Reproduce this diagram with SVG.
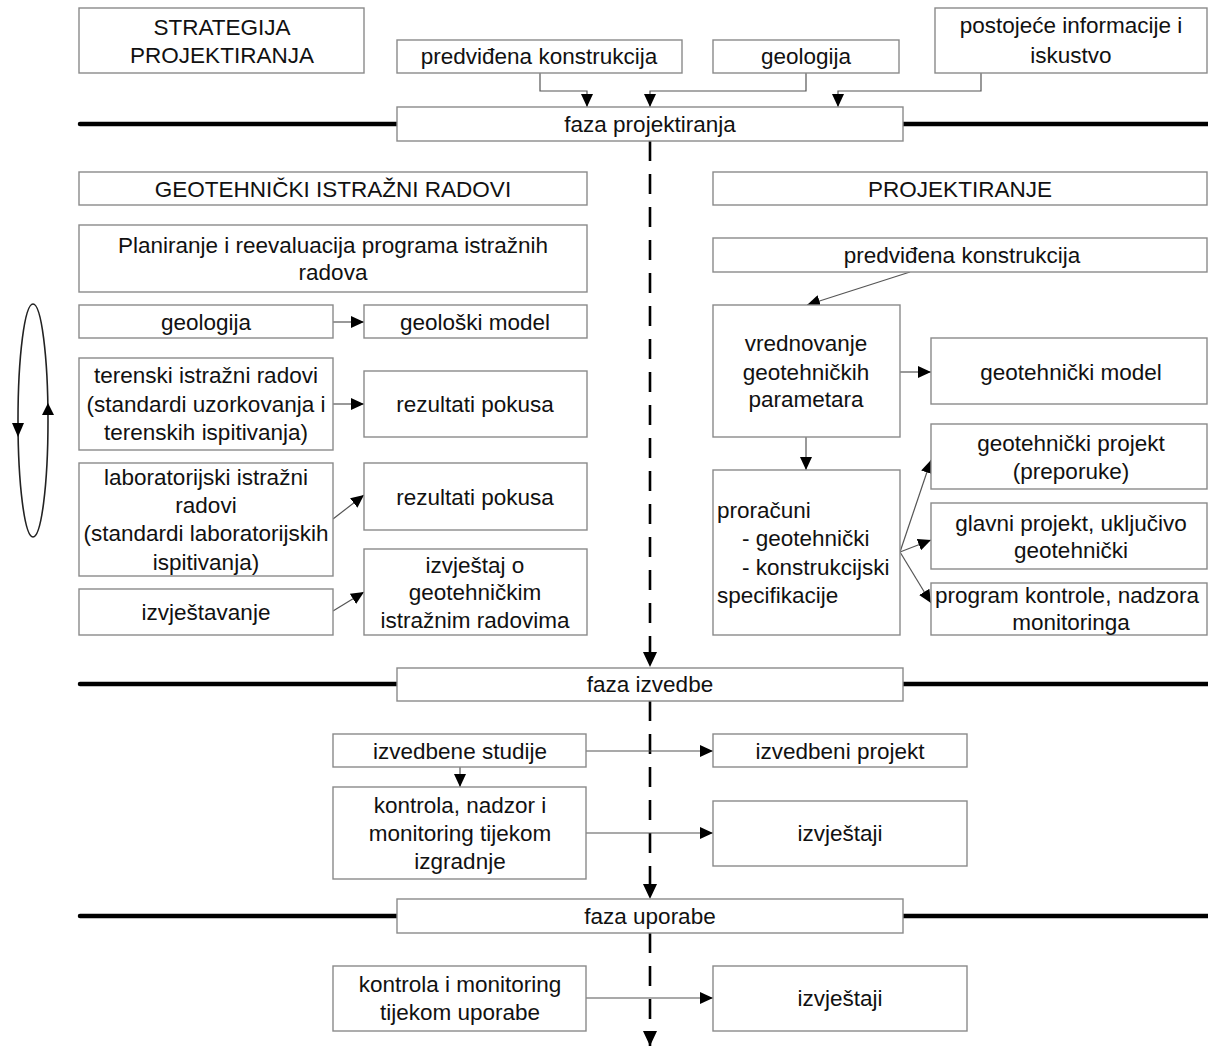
<svg xmlns="http://www.w3.org/2000/svg" width="1208" height="1046" viewBox="0 0 1208 1046">
<style>
.b{fill:#fff;stroke:#8a8a8a;stroke-width:1.4}
text{font-family:"Liberation Sans",Arial,sans-serif;font-size:22.5px;fill:#111;text-anchor:middle}
.l{text-anchor:start}
.c{fill:none;stroke:#555;stroke-width:1.2}
.ph{stroke:#000;stroke-width:4.5;stroke-linecap:round}
.d{fill:none;stroke:#000;stroke-width:2.6;stroke-dasharray:20 13}
.ah{fill:#000}
</style>
<defs>
<marker id="a" markerUnits="userSpaceOnUse" markerWidth="14" markerHeight="12" refX="13" refY="6" orient="auto"><path d="M0,0 L13,6 L0,12 z" fill="#000"/></marker>
<marker id="A" markerUnits="userSpaceOnUse" markerWidth="16" markerHeight="14" refX="15" refY="7" orient="auto"><path d="M0,0 L15,7 L0,14 z" fill="#000"/></marker>
</defs>

<g id="phase-lines">
<line class="ph" x1="80" y1="124" x2="397" y2="124"/>
<line class="ph" x1="903" y1="124" x2="1208" y2="124"/>
<line class="ph" x1="80" y1="684" x2="397" y2="684"/>
<line class="ph" x1="903" y1="684" x2="1208" y2="684"/>
<line class="ph" x1="80" y1="916" x2="397" y2="916"/>
<line class="ph" x1="903" y1="916" x2="1208" y2="916"/>
</g>

<g id="connectors">
<path class="c" d="M540,73 V91 H587 V107" marker-end="url(#a)"/>
<path class="c" d="M806,73 V91 H650 V107" marker-end="url(#a)"/>
<path class="c" d="M981,73 V91 H838 V107" marker-end="url(#a)"/>
<path class="d" d="M650,141 V667" marker-end="url(#A)"/>
<path class="d" d="M650,701 V899" marker-end="url(#A)"/>
<path class="d" d="M650,933 V1046" marker-end="url(#A)"/>
<path class="c" d="M333,322 H364" marker-end="url(#a)"/>
<path class="c" d="M333,404 H364" marker-end="url(#a)"/>
<path class="c" d="M333,519 L364,495" marker-end="url(#a)"/>
<path class="c" d="M333,611 L364,592" marker-end="url(#a)"/>
<path class="c" d="M910,272 L807,305" marker-end="url(#a)"/>
<path class="c" d="M900,372 H931" marker-end="url(#a)"/>
<path class="c" d="M806,437 V470" marker-end="url(#a)"/>
<path class="c" d="M900,552 L931,460" marker-end="url(#a)"/>
<path class="c" d="M900,552 L931,540" marker-end="url(#a)"/>
<path class="c" d="M900,552 L931,603" marker-end="url(#a)"/>
<path class="c" d="M586,751 H713" marker-end="url(#a)"/>
<path class="c" d="M460,767 V787" marker-end="url(#a)"/>
<path class="c" d="M586,833 H713" marker-end="url(#a)"/>
<path class="c" d="M586,998 H713" marker-end="url(#a)"/>
<g id="loop">
<ellipse cx="33" cy="420.5" rx="15" ry="116.5" fill="none" stroke="#222" stroke-width="1.6"/>
<polygon class="ah" points="12,423 24,423 18,437"/>
<polygon class="ah" points="42,415 54,415 48,403"/>
</g>
</g>

<g id="strategija"><rect class="b" x="79" y="8" width="285" height="65"/><text x="222" y="35">STRATEGIJA</text><text x="222" y="63">PROJEKTIRANJA</text></g>
<g id="predvidjena-top"><rect class="b" x="397" y="40" width="285" height="33"/><text x="539" y="64">predviđena konstrukcija</text></g>
<g id="geologija-top"><rect class="b" x="713" y="40" width="186" height="33"/><text x="806" y="64">geologija</text></g>
<g id="postojece"><rect class="b" x="935" y="8" width="272" height="65"/><text x="1071" y="33">postojeće informacije i</text><text x="1071" y="63">iskustvo</text></g>
<g id="faza-projektiranja"><rect class="b" x="397" y="107" width="506" height="34"/><text x="650" y="132">faza projektiranja</text></g>

<g id="geotehnicki-istrazni"><rect class="b" x="79" y="172" width="508" height="33"/><text x="333" y="197">GEOTEHNIČKI ISTRAŽNI RADOVI</text></g>
<g id="projektiranje"><rect class="b" x="713" y="172" width="494" height="33"/><text x="960" y="197">PROJEKTIRANJE</text></g>
<g id="planiranje"><rect class="b" x="79" y="225" width="508" height="67"/><text x="333" y="253">Planiranje i reevaluacija programa istražnih</text><text x="333" y="280">radova</text></g>
<g id="geologija"><rect class="b" x="79" y="305" width="254" height="33"/><text x="206" y="330">geologija</text></g>
<g id="geoloski-model"><rect class="b" x="364" y="305" width="223" height="33"/><text x="475" y="330">geološki model</text></g>
<g id="terenski"><rect class="b" x="79" y="358" width="254" height="92"/><text x="206" y="383">terenski istražni radovi</text><text x="206" y="412">(standardi uzorkovanja i</text><text x="206" y="440">terenskih ispitivanja)</text></g>
<g id="rezultati-1"><rect class="b" x="364" y="371" width="223" height="66"/><text x="475" y="412">rezultati pokusa</text></g>
<g id="laboratorijski"><rect class="b" x="79" y="463" width="254" height="113"/><text x="206" y="485">laboratorijski istražni</text><text x="206" y="513">radovi</text><text x="206" y="541">(standardi laboratorijskih</text><text x="206" y="570">ispitivanja)</text></g>
<g id="rezultati-2"><rect class="b" x="364" y="463" width="223" height="67"/><text x="475" y="505">rezultati pokusa</text></g>
<g id="izvjestaj-o"><rect class="b" x="364" y="549" width="223" height="86"/><text x="475" y="573">izvještaj o</text><text x="475" y="600">geotehničkim</text><text x="475" y="628">istražnim radovima</text></g>
<g id="izvjestavanje"><rect class="b" x="79" y="589" width="254" height="46"/><text x="206" y="620">izvještavanje</text></g>

<g id="predvidjena-right"><rect class="b" x="713" y="238" width="494" height="34"/><text x="962" y="263">predviđena konstrukcija</text></g>
<g id="vrednovanje"><rect class="b" x="713" y="305" width="187" height="132"/><text x="806" y="351">vrednovanje</text><text x="806" y="380">geotehničkih</text><text x="806" y="407">parametara</text></g>
<g id="geotehnicki-model"><rect class="b" x="931" y="338" width="276" height="66"/><text x="1071" y="380">geotehnički model</text></g>
<g id="proracuni"><rect class="b" x="713" y="470" width="187" height="165"/><text class="l" x="717" y="518">proračuni</text><text class="l" x="742" y="546">- geotehnički</text><text class="l" x="742" y="575">- konstrukcijski</text><text class="l" x="717" y="603">specifikacije</text></g>
<g id="geotehnicki-projekt"><rect class="b" x="931" y="424" width="276" height="65"/><text x="1071" y="451">geotehnički projekt</text><text x="1071" y="479">(preporuke)</text></g>
<g id="glavni-projekt"><rect class="b" x="931" y="503" width="276" height="66"/><text x="1071" y="531">glavni projekt, uključivo</text><text x="1071" y="558">geotehnički</text></g>
<g id="program-kontrole"><rect class="b" x="931" y="583" width="276" height="52"/><text x="1067" y="603">program kontrole, nadzora</text><text x="1071" y="630">monitoringa</text></g>

<g id="faza-izvedbe"><rect class="b" x="397" y="668" width="506" height="33"/><text x="650" y="692">faza izvedbe</text></g>
<g id="izvedbene-studije"><rect class="b" x="333" y="734" width="253" height="33"/><text x="460" y="759">izvedbene studije</text></g>
<g id="izvedbeni-projekt"><rect class="b" x="713" y="734" width="254" height="33"/><text x="840" y="759">izvedbeni projekt</text></g>
<g id="kontrola-nadzor"><rect class="b" x="333" y="787" width="253" height="92"/><text x="460" y="813">kontrola, nadzor i</text><text x="460" y="841">monitoring tijekom</text><text x="460" y="869">izgradnje</text></g>
<g id="izvjestaji-1"><rect class="b" x="713" y="801" width="254" height="65"/><text x="840" y="841">izvještaji</text></g>
<g id="faza-uporabe"><rect class="b" x="397" y="899" width="506" height="34"/><text x="650" y="924">faza uporabe</text></g>
<g id="kontrola-monitoring"><rect class="b" x="333" y="966" width="253" height="65"/><text x="460" y="992">kontrola i monitoring</text><text x="460" y="1020">tijekom uporabe</text></g>
<g id="izvjestaji-2"><rect class="b" x="713" y="966" width="254" height="65"/><text x="840" y="1006">izvještaji</text></g>
</svg>
